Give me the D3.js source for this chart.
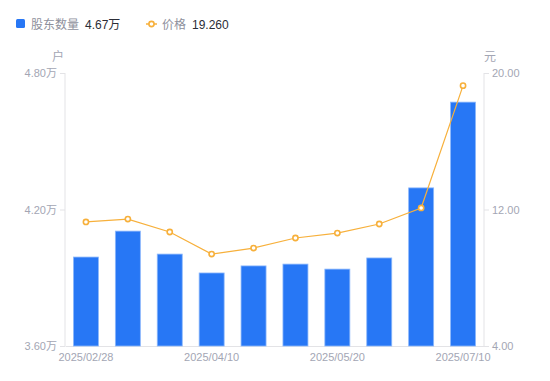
<!DOCTYPE html>
<html>
<head>
<meta charset="utf-8">
<script src="https://cdn.jsdelivr.net/npm/d3@7"></script>
<style>
  body { margin: 0; background: #fff; }
  svg { font-family: "Noto Sans CJK SC", "Liberation Sans", sans-serif; }
</style>
</head>
<body>
<svg id="chart" width="550" height="381"></svg>
<script>
const dates = ['2025/02/28', '2025/03/14', '2025/03/31', '2025/04/10', '2025/04/30',
    '2025/05/09', '2025/05/20', '2025/06/10', '2025/06/20', '2025/07/10'];
const holders = [3.991, 4.105, 4.004, 3.921, 3.952, 3.960, 3.938, 3.987, 4.295, 4.672]; // 万户
const prices = [11.27, 11.44, 10.68, 9.39, 9.74, 10.33, 10.62, 11.15, 12.09, 19.26];
const leftTicks = [3.6, 4.2, 4.8];
const rightTicks = [4, 12, 20];
const shownDates = ['2025/02/28', '2025/04/10', '2025/05/20', '2025/07/10'];

const svg = d3.select('#chart');
const mLeft = 65, mRight = 484, mTop = 73, mBottom = 346;
const axisColor = '#e3e3e6';
const tickText = '#a3a6b4';

const x = d3.scaleBand().domain(dates).range([mLeft, mRight]);
const yL = d3.scaleLinear().domain([3.6, 4.8]).range([mBottom, mTop]);
const yR = d3.scaleLinear().domain([4, 20]).range([mBottom, mTop]);

// axes
const gl = svg.append('g').attr('transform', 'translate(' + mLeft + ',0)')
    .call(d3.axisLeft(yL).tickValues(leftTicks).tickSize(5).tickPadding(3)
        .tickFormat(d => d.toFixed(2) + '万'));
const gr = svg.append('g').attr('transform', 'translate(' + mRight + ',0)')
    .call(d3.axisRight(yR).tickValues(rightTicks).tickSize(5).tickPadding(3)
        .tickFormat(d => d.toFixed(2)));
const gx = svg.append('g').attr('transform', 'translate(0,' + mBottom + ')')
    .call(d3.axisBottom(x).tickValues(shownDates).tickSize(0).tickPadding(7));

[gl, gr, gx].forEach(g => {
    g.select('.domain').attr('stroke', axisColor);
    g.selectAll('.tick line').attr('stroke', axisColor);
    g.selectAll('.tick text').attr('fill', tickText).style('font-size', '11px')
        .style('font-family', '"Liberation Sans", "Noto Sans CJK SC", sans-serif');
});
gl.select('.domain').attr('d', 'M0,' + mTop + 'V' + mBottom);
gr.select('.domain').attr('d', 'M0,' + mTop + 'V' + mBottom);

// unit labels
svg.append('text').attr('x', 58).attr('y', 61).attr('text-anchor', 'middle')
    .attr('fill', tickText).style('font-size', '12px').text('户');
svg.append('text').attr('x', 490).attr('y', 61).attr('text-anchor', 'middle')
    .attr('fill', tickText).style('font-size', '12px').text('元');

// bars
const bw = 25;
svg.append('g').selectAll('rect')
    .data(holders)
    .enter()
    .append('rect')
    .attr('x', (d, i) => x(dates[i]) + x.bandwidth() / 2 - bw / 2)
    .attr('y', d => yL(d))
    .attr('width', bw)
    .attr('height', d => mBottom - yL(d))
    .attr('fill', '#2777f5')
    .attr('stroke', '#8db8fb')
    .attr('stroke-width', 0.8);

// price line
const cx = (d, i) => x(dates[i]) + x.bandwidth() / 2;
svg.append('path')
    .datum(prices)
    .attr('fill', 'none')
    .attr('stroke', '#f7b03b')
    .attr('stroke-width', 1.2)
    .attr('d', d3.line().x(cx).y(d => yR(d)));
svg.append('g').selectAll('circle')
    .data(prices)
    .enter()
    .append('circle')
    .attr('cx', cx)
    .attr('cy', d => yR(d))
    .attr('r', 2.6)
    .attr('fill', '#fff')
    .attr('stroke', '#f7b03b')
    .attr('stroke-width', 1.6);

// legend
const lg = svg.append('g');
lg.append('rect').attr('x', 16).attr('y', 19).attr('width', 9).attr('height', 9)
    .attr('rx', 1.5).attr('fill', '#2777f5');
lg.append('text').attr('x', 31).attr('y', 28.5).attr('fill', '#8e909c')
    .style('font-size', '12px').text('股东数量');
lg.append('text').attr('x', 85).attr('y', 28.5).attr('fill', '#2b2d36')
    .style('font-size', '12px').style('font-family', '"Liberation Sans", "Noto Sans CJK SC", sans-serif')
    .text('4.67万');
lg.append('line').attr('x1', 146).attr('x2', 157).attr('y1', 24).attr('y2', 24)
    .attr('stroke', '#f7b03b').attr('stroke-width', 1.5);
lg.append('circle').attr('cx', 151.5).attr('cy', 24).attr('r', 2.6)
    .attr('fill', '#fff').attr('stroke', '#f7b03b').attr('stroke-width', 1.6);
lg.append('text').attr('x', 162).attr('y', 28.5).attr('fill', '#8e909c')
    .style('font-size', '12px').text('价格');
lg.append('text').attr('x', 192).attr('y', 28.5).attr('fill', '#2b2d36')
    .style('font-size', '12px').style('font-family', '"Liberation Sans", sans-serif')
    .text('19.260');
</script>
</body>
</html>
